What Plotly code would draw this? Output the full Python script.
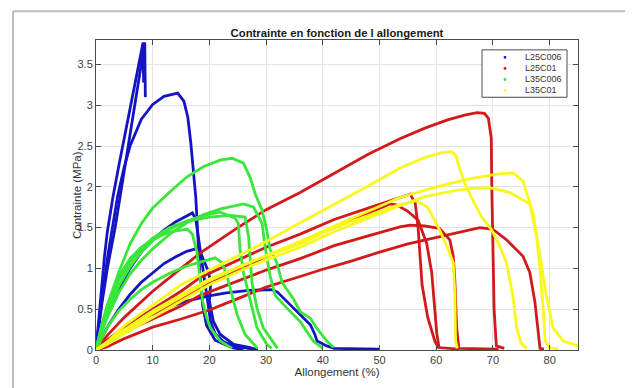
import plotly.graph_objects as go

# ---------------- data ----------------
# L25C006 (blue)
b1_x = [0, 0.5, 1, 1.5, 2, 3, 4, 5, 6, 7, 8.2, 8.3, 8.35, 8.4]
b1_y = [0, 0.42, 0.8, 1.15, 1.45, 1.88, 2.25, 2.6, 2.95, 3.3, 3.72, 3.77, 3.5, 3.28]
b2_x = [0, 1, 2, 3, 3.4, 4, 5, 6, 7, 8, 8.6, 8.65, 8.7]
b2_y = [0, 0.55, 1.0, 1.35, 1.51, 1.77, 2.2, 2.62, 3.05, 3.47, 3.77, 3.4, 3.1]
b3_x = [0, 1, 2, 3, 3.8, 4.9, 6, 8, 10, 12, 14.4, 15.5, 16.2, 16.7, 17.2, 17.6, 18.3, 18.8, 19.5, 21, 24, 26]
b3_y = [0, 0.6, 1.12, 1.55, 1.88, 2.22, 2.5, 2.83, 3.01, 3.11, 3.15, 3.05, 2.85, 2.55, 2.2, 1.87, 0.95, 0.55, 0.3, 0.12, 0.03, 0]
b4_x = [0, 1, 2, 4, 6, 8, 10, 12, 14, 16, 17, 17.6, 18.2, 18.8, 19.3, 19.7, 20.2, 21, 22.5, 24.3, 27, 28.5]
b4_y = [0, 0.25, 0.45, 0.75, 1.0, 1.2, 1.35, 1.47, 1.57, 1.65, 1.68, 1.6, 1.3, 1.0, 0.75, 0.55, 0.35, 0.2, 0.1, 0.05, 0.02, 0]
b5_x = [0, 1, 2, 4, 6, 8, 10, 12, 14, 16, 17.6, 18.4, 19, 19.9, 20.2, 20.0, 20.7, 21.9, 24.3, 27.2, 28.5]
b5_y = [0, 0.15, 0.28, 0.5, 0.68, 0.83, 0.95, 1.06, 1.14, 1.21, 1.24, 1.2, 1.1, 0.95, 0.8, 0.6, 0.35, 0.19, 0.07, 0.03, 0]
b6_x = [0, 2, 4, 6, 8, 10, 13, 16, 19.7, 23, 27, 31, 32, 33.7, 36, 37.8, 38.6, 39, 40.7, 42, 50]
b6_y = [0, 0.1, 0.2, 0.29, 0.37, 0.44, 0.53, 0.6, 0.66, 0.7, 0.73, 0.74, 0.71, 0.59, 0.43, 0.31, 0.19, 0.11, 0.05, 0.02, 0.01]

# L25C01 (red)
r1_x = [0, 2, 5, 10, 15, 18.4, 25, 30, 36, 42, 48, 53.6, 58, 62, 65, 67.2, 68.5, 69.2, 69.7, 69.8, 70, 70.2, 70.6, 72]
r1_y = [0, 0.18, 0.4, 0.72, 1.0, 1.19, 1.5, 1.72, 1.93, 2.17, 2.4, 2.59, 2.72, 2.82, 2.88, 2.91, 2.9, 2.84, 2.6, 2.0, 1.2, 0.5, 0.05, 0.02]
r2_x = [0, 2, 5, 10, 15, 18.4, 25, 30, 36, 42, 48, 53.6, 55.4, 56.3, 56.8, 57.1, 57.5, 58.5, 59.8, 60.5]
r2_y = [0, 0.12, 0.28, 0.5, 0.72, 0.89, 1.1, 1.26, 1.42, 1.6, 1.74, 1.87, 1.91, 1.8, 1.5, 1.2, 0.8, 0.4, 0.1, 0.02]
r3_x = [0, 2, 5, 10, 15, 18.4, 25, 30, 36, 42, 48, 51.8, 53, 55, 56.8, 58.3, 59.2, 59.8, 60.1, 60.5, 64]
r3_y = [0, 0.12, 0.26, 0.45, 0.63, 0.77, 0.98, 1.15, 1.32, 1.5, 1.68, 1.79, 1.78, 1.7, 1.59, 1.31, 0.95, 0.47, 0.2, 0.03, 0.01]
r4_x = [0, 2, 5, 10, 15, 20, 25, 30, 35, 40, 45, 50, 55, 60, 65, 67.7, 70, 72.4, 75.3, 76.5, 77.4, 78, 78.3, 79]
r4_y = [0, 0.04, 0.14, 0.28, 0.38, 0.49, 0.63, 0.77, 0.88, 0.99, 1.09, 1.2, 1.3, 1.38, 1.46, 1.5, 1.48, 1.35, 1.15, 0.95, 0.59, 0.19, 0.02, 0.01]
r5_x = [0, 2, 5, 10, 15, 18.4, 25, 30, 36, 42, 48, 53.6, 55.4, 58, 60.6, 62.4, 63, 63.3, 63.6, 64, 71]
r5_y = [0, 0.1, 0.22, 0.38, 0.54, 0.67, 0.85, 0.98, 1.12, 1.28, 1.4, 1.51, 1.53, 1.52, 1.49, 1.35, 1.15, 0.83, 0.27, 0.02, 0.01]

# L35C006 (green)
g1_x = [0, 1, 2, 4, 6, 8, 10, 13.2, 16, 19, 22, 24, 26, 27.2, 28.1, 29.3, 30.1, 30.7, 31.9, 32.8, 34.8, 36, 37.8, 38.9, 40.7, 41.9]
g1_y = [0, 0.3, 0.55, 0.95, 1.3, 1.55, 1.74, 1.95, 2.12, 2.25, 2.33, 2.35, 2.29, 2.11, 1.91, 1.71, 1.47, 1.23, 1.07, 0.83, 0.63, 0.47, 0.39, 0.27, 0.11, 0.03]
g2_x = [0, 1, 2, 4, 6, 8, 10, 13, 16, 19, 22, 26, 27.8, 29.3, 29.8, 30.7, 31.6, 33.7, 36, 38.3, 40]
g2_y = [0, 0.22, 0.4, 0.7, 0.93, 1.1, 1.24, 1.42, 1.56, 1.66, 1.73, 1.79, 1.75, 1.55, 1.27, 0.91, 0.67, 0.51, 0.35, 0.11, 0.02]
g3_x = [0, 1, 2, 4, 6, 8, 10, 13, 16, 19, 21.9, 24.5, 25.1, 25.4, 26, 27.2, 28.4, 30.1, 31]
g3_y = [0, 0.25, 0.45, 0.78, 1.02, 1.2, 1.34, 1.48, 1.58, 1.65, 1.69, 1.62, 1.55, 1.23, 0.95, 0.59, 0.27, 0.07, 0.02]
g4_x = [0, 1, 2, 4, 6, 8, 10, 13, 16, 20, 23.7, 25.5, 26.3, 26.9, 27.2, 27.5, 28.4, 29.5, 31.3, 32]
g4_y = [0, 0.28, 0.5, 0.85, 1.08, 1.25, 1.37, 1.5, 1.58, 1.63, 1.65, 1.64, 1.63, 1.39, 1.07, 0.83, 0.51, 0.27, 0.09, 0.02]
g5_x = [0, 1, 2, 4, 6, 8, 10, 12, 14, 16.1, 17, 17.8, 18.3, 18.8, 19.5, 20.2, 21.9, 24]
g5_y = [0, 0.3, 0.55, 0.9, 1.12, 1.26, 1.35, 1.42, 1.46, 1.48, 1.42, 1.2, 0.9, 0.6, 0.4, 0.27, 0.11, 0.02]
g6_x = [0, 1, 2, 4, 6, 8, 10, 13, 16, 19, 21, 22.2, 23.1, 24, 24.9, 26.3, 27.8, 28.5]
g6_y = [0, 0.15, 0.28, 0.48, 0.62, 0.74, 0.83, 0.94, 1.03, 1.09, 1.13, 1.07, 0.91, 0.67, 0.43, 0.19, 0.07, 0.02]

# L35C01 (yellow)
y1_x = [0, 2, 5, 10, 15, 20, 28.4, 36, 42, 48, 53.6, 58, 61, 62.7, 63.5, 63.9, 65, 66.2, 68, 69.8, 71, 72.4, 73.5, 74.2, 75, 76]
y1_y = [0, 0.1, 0.3, 0.55, 0.8, 0.98, 1.27, 1.56, 1.78, 2.01, 2.23, 2.36, 2.42, 2.43, 2.38, 2.27, 2.05, 1.87, 1.63, 1.47, 1.3, 1.07, 0.67, 0.27, 0.08, 0.02]
y2_x = [0, 2, 5, 10, 15, 20, 28, 36, 42, 48, 53.6, 60, 66, 71, 73.6, 75.3, 77.1, 78.3, 79.4, 80.6, 82.4, 85]
y2_y = [0, 0.08, 0.22, 0.45, 0.65, 0.85, 1.1, 1.33, 1.52, 1.7, 1.87, 2.0, 2.1, 2.16, 2.17, 2.07, 1.67, 1.15, 0.67, 0.27, 0.11, 0.05]
y3_x = [0, 2, 5, 10, 15, 20, 28, 36, 42, 48, 53.6, 58, 63, 66, 69.4, 73, 76.5, 77.7, 78.3, 78.9, 79.2, 80, 81.5]
y3_y = [0, 0.07, 0.2, 0.4, 0.6, 0.8, 1.05, 1.26, 1.45, 1.62, 1.77, 1.88, 1.95, 1.98, 1.99, 1.93, 1.79, 1.39, 0.99, 0.47, 0.12, 0.03, 0.01]
y4_x = [0, 2, 5, 10, 15, 20, 28, 36, 42, 48, 53, 56.5, 58.5, 60.6, 62, 63, 63.3, 63.4, 63.7]
y4_y = [0, 0.1, 0.25, 0.48, 0.68, 0.87, 1.1, 1.3, 1.5, 1.65, 1.77, 1.83, 1.75, 1.47, 1.25, 1.07, 0.67, 0.12, 0.02]

series_names = ["L25C006", "L25C01", "L35C006", "L35C01"]
series_colors = ["#1414c4", "#d21a1a", "#3ae63a", "#f8f81e"]
series_curves = [
    [(b1_x, b1_y), (b2_x, b2_y), (b3_x, b3_y), (b4_x, b4_y), (b5_x, b5_y), (b6_x, b6_y)],
    [(r1_x, r1_y), (r2_x, r2_y), (r3_x, r3_y), (r4_x, r4_y), (r5_x, r5_y)],
    [(g1_x, g1_y), (g2_x, g2_y), (g3_x, g3_y), (g4_x, g4_y), (g5_x, g5_y), (g6_x, g6_y)],
    [(y1_x, y1_y), (y2_x, y2_y), (y3_x, y3_y), (y4_x, y4_y)],
]

x_ticks = [0, 10, 20, 30, 40, 50, 60, 70, 80]
y_ticks = [0, 0.5, 1, 1.5, 2, 2.5, 3, 3.5]
x_range = [0, 85]
y_range = [0, 3.8]

# ---------------- layout geometry (page pixels; page body has an 8px margin) ----------------
OFF = 8
FIG_W, FIG_H = 633 - OFF, 388 - OFF
PL, PR, PT, PB = 96, 578, 40, 354          # plot area in page pixels
PW, PH = PR - PL, PB - PT

def px_x(p):
    return (p - PL) / PW

def px_y(p):
    return (PB - p) / PH

FONT = "Liberation Sans, Arial, sans-serif"

fig = go.Figure()
for name, color, curves in zip(series_names, series_colors, series_curves):
    for cx, cy in curves:
        fig.add_trace(go.Scatter(x=cx, y=cy, mode="lines",
                                 line=dict(color=color, width=2.8),
                                 showlegend=False, hoverinfo="skip"))

axis_common = dict(
    showline=True, linecolor="#4a4a4a", linewidth=1, mirror="ticks",
    ticks="inside", ticklen=5, tickcolor="#4a4a4a",
    showgrid=True, gridcolor="#e4e4e4", gridwidth=1,
    zeroline=False,
    tickfont=dict(family=FONT, size=11, color="#404040"),
)

# manual legend (box, dots, labels)
leg_x0, leg_x1, leg_y0, leg_y1 = 482, 567, 50, 98
row_y = [57.5, 68.8, 80, 91]
shapes = [
    dict(type="line", xref="paper", yref="paper",
         x0=px_x(13), x1=px_x(660), y0=px_y(11), y1=px_y(11),
         line=dict(color="#bdbdbd", width=2)),
    dict(type="line", xref="paper", yref="paper",
         x0=px_x(13), x1=px_x(13), y0=px_y(11), y1=px_y(420),
         line=dict(color="#bdbdbd", width=2)),
    dict(type="rect", xref="paper", yref="paper",
         x0=px_x(leg_x0), x1=px_x(leg_x1), y0=px_y(leg_y1), y1=px_y(leg_y0),
         line=dict(color="#4a4a4a", width=1), fillcolor="white", layer="above"),
]
annotations = []
for name, color, ry in zip(series_names, series_colors, row_y):
    shapes.append(dict(type="circle", xref="paper", yref="paper",
                       xsizemode="pixel", ysizemode="pixel",
                       xanchor=px_x(505), yanchor=px_y(ry),
                       x0=-1.4, x1=1.4, y0=-1.4, y1=1.4,
                       fillcolor=color, line=dict(width=0), layer="above"))
    annotations.append(dict(text=name, xref="paper", yref="paper",
                            x=px_x(523), y=px_y(ry), xanchor="left", yanchor="middle",
                            showarrow=False,
                            font=dict(family=FONT, size=9, color="#333333")))

# y-axis title placed like the reference (close to the tick labels)
annotations.append(dict(text="Contrainte (MPa)", xref="paper", yref="paper",
                        x=px_x(77), y=0.5, xanchor="center", yanchor="middle",
                        textangle=-90, showarrow=False,
                        font=dict(family=FONT, size=11.5, color="#333333")))

fig.update_layout(
    width=FIG_W, height=FIG_H,
    paper_bgcolor="white", plot_bgcolor="white",
    margin=dict(l=PL - OFF, r=FIG_W - (PR - OFF), t=PT - OFF, b=FIG_H - (PB - OFF)),
    showlegend=False,
    title=dict(text="<b>Contrainte en fonction de l allongement</b>",
               x=((PL + PR) / 2 - OFF) / FIG_W, xanchor="center",
               y=1 - (33 - OFF) / FIG_H, yanchor="middle",
               font=dict(family=FONT, size=11.3, color="#1a1a1a")),
    xaxis=dict(range=x_range, tickvals=x_ticks, **axis_common,
               title=dict(text="Allongement (%)", standoff=2,
                          font=dict(family=FONT, size=11.5, color="#333333"))),
    yaxis=dict(range=y_range, tickvals=y_ticks, **axis_common),
    shapes=shapes,
    annotations=annotations,
)

fig.write_html("out.html")
